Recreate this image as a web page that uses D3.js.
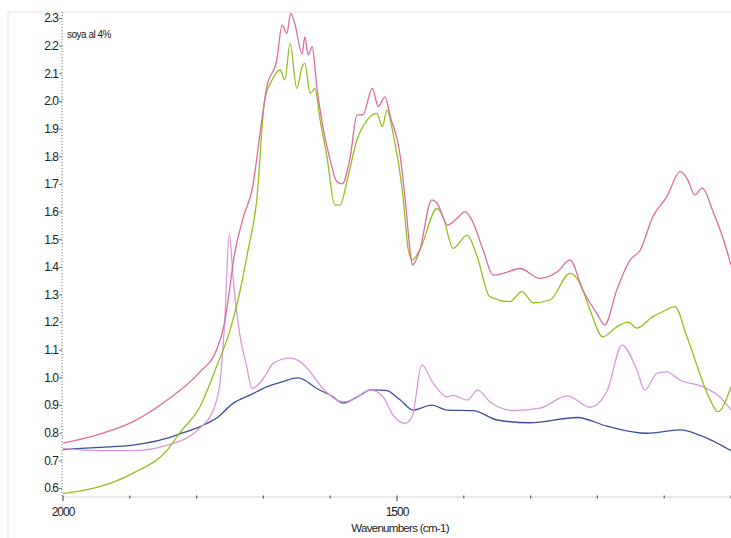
<!DOCTYPE html>
<html>
<head>
<meta charset="utf-8">
<script src="https://cdn.jsdelivr.net/npm/d3@7"></script>
<style>
  html, body { margin: 0; padding: 0; background: #fff; }
  svg { display: block; font-family: Arial, "Liberation Sans", sans-serif; }
</style>
</head>
<body>
<div id="chart"></div>
<script>
// wavenumber (cm-1) / absorbance pairs
const pinkWn  = [2000, 1945, 1895, 1844, 1795, 1770, 1758, 1750, 1745, 1730, 1716, 1705, 1695, 1680, 1672, 1665, 1659, 1653, 1642, 1638, 1633, 1627, 1620, 1611, 1600, 1590, 1582, 1570, 1560, 1551, 1537, 1528, 1518, 1510, 1495, 1488, 1480, 1477, 1466, 1448, 1440, 1424, 1410, 1398, 1388, 1371, 1356, 1341, 1316, 1286, 1260, 1241, 1222, 1201, 1189, 1171, 1151, 1136, 1117, 1096, 1076, 1066, 1054, 1043, 1027, 1012, 1000];
const pinkAbs = [0.762, 0.795, 0.84, 0.918, 1.02, 1.10, 1.20, 1.33, 1.42, 1.58, 1.69, 1.884, 2.05, 2.148, 2.274, 2.244, 2.317, 2.28, 2.17, 2.232, 2.166, 2.196, 2.05, 1.907, 1.786, 1.708, 1.70, 1.798, 1.949, 1.95, 2.045, 1.98, 2.015, 1.943, 1.798, 1.65, 1.45, 1.406, 1.46, 1.642, 1.63, 1.551, 1.576, 1.60, 1.57, 1.46, 1.37, 1.376, 1.394, 1.358, 1.382, 1.425, 1.316, 1.232, 1.19, 1.316, 1.425, 1.46, 1.581, 1.654, 1.744, 1.72, 1.66, 1.685, 1.60, 1.504, 1.406];

const greenWn  = [2000, 1945, 1895, 1844, 1825, 1795, 1770, 1750, 1738, 1723, 1710, 1698, 1687, 1675, 1668, 1660, 1650, 1642, 1638, 1630, 1623, 1615, 1605, 1593, 1585, 1575, 1560, 1545, 1530, 1522, 1515, 1506, 1492, 1483, 1477, 1466, 1440, 1431, 1416, 1395, 1380, 1361, 1331, 1313, 1296, 1271, 1241, 1226, 1211, 1192, 1171, 1154, 1141, 1117, 1102, 1084, 1066, 1031, 1020, 1000];
const greenAbs = [0.58, 0.605, 0.654, 0.737, 0.80, 0.894, 1.04, 1.17, 1.28, 1.46, 1.64, 2.003, 2.076, 2.112, 2.076, 2.208, 2.045, 2.124, 2.136, 2.027, 2.045, 1.93, 1.80, 1.623, 1.623, 1.708, 1.859, 1.93, 1.955, 1.907, 1.967, 1.884, 1.678, 1.46, 1.425, 1.46, 1.611, 1.58, 1.467, 1.515, 1.437, 1.292, 1.274, 1.31, 1.27, 1.28, 1.376, 1.34, 1.244, 1.147, 1.183, 1.20, 1.178, 1.22, 1.238, 1.256, 1.147, 0.918, 0.876, 0.966];

const violetWn  = [2000, 1945, 1895, 1844, 1795, 1775, 1765, 1758, 1751, 1745, 1735, 1725, 1717, 1695, 1686, 1660, 1645, 1630, 1611, 1581, 1566, 1540, 1521, 1506, 1488, 1477, 1463, 1446, 1425, 1416, 1395, 1379, 1361, 1326, 1286, 1245, 1211, 1186, 1163, 1141, 1129, 1111, 1096, 1076, 1042, 1017, 1000];
const violetAbs = [0.743, 0.735, 0.735, 0.755, 0.817, 0.882, 0.98, 1.20, 1.52, 1.35, 1.15, 1.04, 0.96, 1.015, 1.05, 1.07, 1.057, 1.02, 0.96, 0.912, 0.92, 0.955, 0.93, 0.864, 0.834, 0.86, 1.045, 0.98, 0.93, 0.935, 0.918, 0.954, 0.912, 0.88, 0.889, 0.933, 0.892, 0.948, 1.117, 1.027, 0.954, 1.015, 1.02, 0.99, 0.966, 0.93, 0.882];

const navyWn  = [2000, 1945, 1895, 1844, 1820, 1795, 1770, 1745, 1720, 1695, 1671, 1648, 1620, 1596, 1581, 1555, 1540, 1525, 1515, 1495, 1476, 1448, 1425, 1386, 1350, 1301, 1230, 1186, 1126, 1076, 1046, 1000];
const navyAbs = [0.74, 0.747, 0.755, 0.78, 0.80, 0.822, 0.853, 0.907, 0.936, 0.966, 0.985, 0.998, 0.96, 0.93, 0.907, 0.936, 0.955, 0.954, 0.952, 0.918, 0.882, 0.90, 0.882, 0.88, 0.846, 0.836, 0.855, 0.824, 0.798, 0.81, 0.79, 0.735];

const yTicks = [0.6, 0.7, 0.8, 0.9, 1.0, 1.1, 1.2, 1.3, 1.4, 1.5, 1.6, 1.7, 1.8, 1.9, 2.0, 2.1, 2.2, 2.3];
const xTicks = [2000, 1900, 1800, 1700, 1600, 1500, 1400, 1300, 1200, 1100, 1000];
const xLabels = [2000, 1500];

const seriesList = [
    { wn: navyWn, abs: navyAbs, color: '#3f4d96' },
    { wn: violetWn, abs: violetAbs, color: '#d79ada' },
    { wn: greenWn, abs: greenAbs, color: '#97bf1e' },
    { wn: pinkWn, abs: pinkAbs, color: '#dc6c9e' }
];

const width = 731, height = 538;
const svg = d3.select('#chart').append('svg')
    .attr('width', width).attr('height', height);

const x = d3.scaleLinear().domain([2000, 1000]).range([63, 731]);
const y = d3.scaleLinear().domain([0.6, 2.3]).range([488, 18]);
const yBottom = y(0.5675);

// faint outer frame
svg.append('path')
    .attr('d', `M8,${height} V12 H${width}`)
    .attr('fill', 'none').attr('stroke', '#e2e2e2').attr('stroke-width', 1);

// x axis: light line, small dot ticks, labels only at 2000 and 1500
const xAxis = svg.append('g').attr('transform', `translate(0,${yBottom})`);
xAxis.append('line')
    .attr('x1', x(2000)).attr('x2', width)
    .attr('stroke', '#d4d4d4');
xAxis.selectAll('line.tick').data(xTicks).enter().append('line')
    .attr('class', 'tick')
    .attr('x1', (d) => x(d)).attr('x2', (d) => x(d))
    .attr('y1', -1.5).attr('y2', (d) => xLabels.includes(d) ? 4 : 1.5)
    .attr('stroke', '#555').attr('stroke-width', 1.2);
xAxis.selectAll('text').data(xLabels).enter().append('text')
    .attr('x', (d) => x(d)).attr('y', 19)
    .attr('text-anchor', 'middle')
    .attr('fill', '#222')
    .style('font-size', '12px').style('letter-spacing', '-1px')
    .text((d) => d);

// y axis: dotted spine, short ticks on the left
const yAxis = svg.append('g').attr('transform', 'translate(62,0)')
    .call(d3.axisLeft(y).tickValues(yTicks).tickFormat(d3.format('.1f')).tickSize(3).tickSizeOuter(0));
yAxis.select('.domain').remove();
yAxis.append('line')
    .attr('y1', 12).attr('y2', yBottom)
    .attr('stroke', '#777').attr('stroke-dasharray', '1.2,1.8');
yAxis.selectAll('.tick line').attr('stroke', '#777');
yAxis.selectAll('.tick text')
    .attr('x', -4).attr('fill', '#222')
    .style('font-family', 'Arial, "Liberation Sans", sans-serif')
    .style('font-size', '12px').style('letter-spacing', '-1px');

// spectra
const line = d3.line()
    .x((d) => x(d[0]))
    .y((d) => y(d[1]))
    .curve(d3.curveMonotoneX);

svg.append('g').selectAll('path').data(seriesList).enter().append('path')
    .attr('d', (s) => line(d3.zip(s.wn, s.abs)))
    .attr('fill', 'none')
    .attr('stroke', (s) => s.color)
    .attr('stroke-width', 1.3)
    .attr('stroke-linejoin', 'round');

svg.append('text')
    .attr('x', 67).attr('y', 38)
    .attr('fill', '#222')
    .style('font-size', '10px').style('letter-spacing', '-0.5px')
    .text('soya al 4%');

svg.append('text')
    .attr('x', 400).attr('y', 532)
    .attr('text-anchor', 'middle')
    .attr('fill', '#222')
    .style('font-size', '11.5px').style('letter-spacing', '-0.7px')
    .text('Wavenumbers (cm-1)');
</script>
</body>
</html>
